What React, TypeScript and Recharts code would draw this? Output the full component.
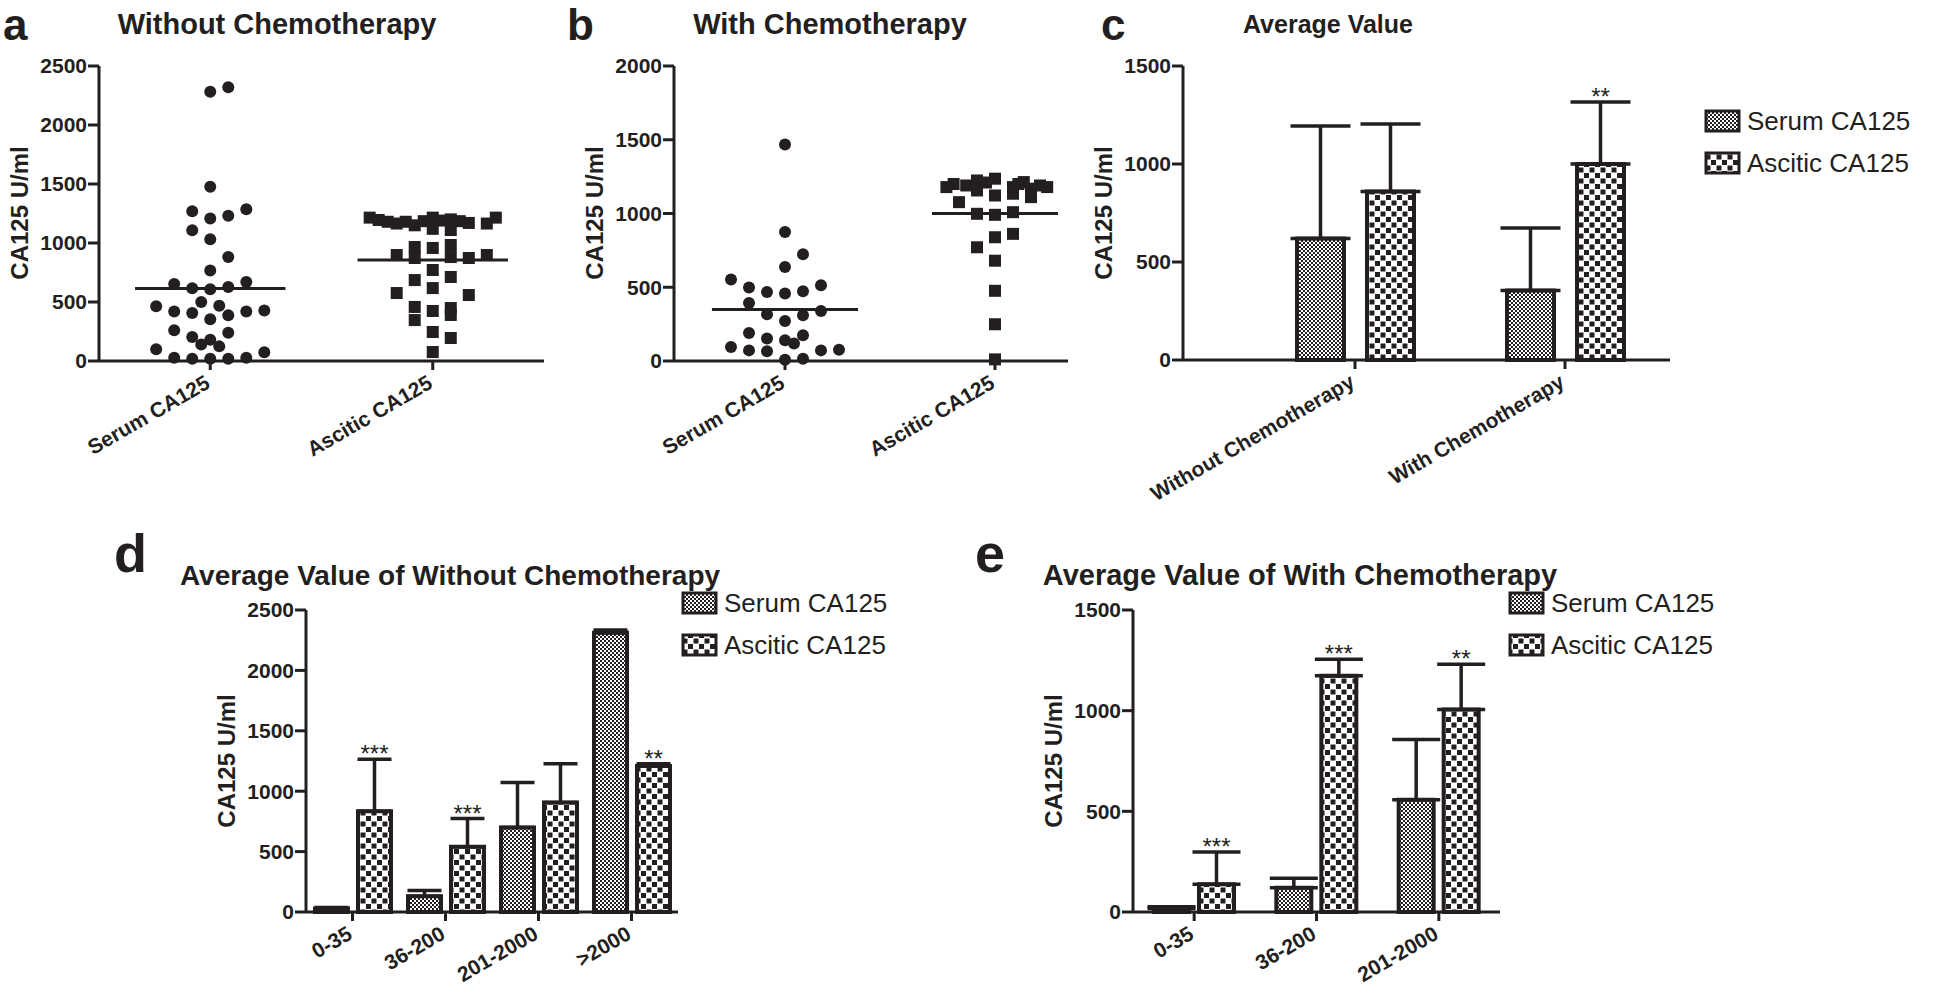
import React from 'react';
import {
  ScatterChart,
  Scatter,
  BarChart,
  Bar,
  XAxis,
  YAxis,
  ErrorBar,
  ReferenceLine,
  LabelList,
} from 'recharts';

const INK = '#231f20';
const FONT = '"Liberation Sans", Arial, Helvetica, sans-serif';

// panels a, b: dot plots. each point is [column offset, U/ml]
const scatterGroups = ['Serum CA125', 'Ascitic CA125'];

const serumWithout: [number, number][] = [
  [0, 2282], [1, 2319], [0, 1476], [-1, 1270], [0, 1208], [1, 1230], [2, 1287], [-1, 1109],
  [0, 1032], [1, 882], [0, 766], [-2, 653], [-1, 616], [0, 608], [1, 628], [2, 670],
  [-3, 464], [-2, 419], [-1, 407], [-0.5, 500], [0.5, 469], [1, 387], [2, 419], [3, 427],
  [0, 353], [-2, 260], [-1, 204], [0, 181], [1, 240], [-0.5, 139], [0.5, 124], [-3, 99],
  [3, 74], [-2, 28], [-1, 20], [0, 20], [1, 20], [2, 28],
];
const asciticWithout: [number, number][] = [
  [-3.5, 1215], [-3, 1195], [-2.5, 1180], [-2, 1165], [-1.5, 1180], [-1, 1150], [-0.5, 1185],
  [0, 1215], [0, 1120], [0.5, 1190], [1, 1200], [1, 1110], [1.5, 1185], [2, 1170], [3, 1165],
  [3.5, 1215], [-2, 898], [-2, 576], [-1, 966], [-1, 873], [-1, 686], [-1, 458], [-1, 347],
  [0, 958], [0, 771], [0, 618], [0, 424], [0, 246], [0, 76], [1, 983], [1, 881], [1, 712],
  [1, 449], [1, 390], [1, 195], [2, 873], [2, 559], [3, 898],
];
const serumWith: [number, number][] = [
  [0, 1468], [0, 875], [1, 724], [0, 638], [-3, 552], [-2, 498], [-1, 468], [0, 457], [1, 473],
  [2, 513], [-2, 394], [2, 339], [-1, 317], [1, 310], [0, 271], [-2, 190], [-1, 152], [0, 140],
  [1, 174], [0.5, 118], [-3, 95], [-2, 72], [-1, 66], [2, 72], [3, 77], [0, 9], [1, 16],
];
const asciticWith: [number, number][] = [
  [-2.7, 1179], [-2, 1077], [-1.6, 1190], [-1, 1224], [-1, 1156], [0, 1236], [0, 1122],
  [1, 1179], [1, 1134], [1.6, 1213], [2, 1168], [2, 1111], [2.9, 1179], [-2.3, 1200],
  [1.3, 1200], [2.5, 1190], [-0.5, 1210], [-1, 998], [0, 991], [1, 1009], [0, 839], [1, 862],
  [-1, 771], [0, 680], [0, 476], [0, 249], [0, 11],
];
const meanWithout = [615, 856];
const meanWith = [350, 1000];

const ticks2500 = [0, 500, 1000, 1500, 2000, 2500];
const ticks2000 = [0, 500, 1000, 1500, 2000];
const ticks1500 = [0, 500, 1000, 1500];

// panel c
const chemoGroups = ['Without Chemotherapy', 'With Chemotherapy'];
const avgSerum = [620, 355];
const sdSerum = [574, 318];
const avgAscitic = [860, 1000];
const sdAscitic = [344, 316];
const sigAverage = ['', '**'];

// panel d
const rangesWithout = ['0-35', '36-200', '201-2000', '>2000'];
const serumRangeWithout = [28, 130, 699, 2311];
const serumSdWithout = [9, 47, 372, 24];
const asciticRangeWithout = [835, 540, 907, 1208];
const asciticSdWithout = [429, 233, 320, 19];
const sigWithout = ['***', '***', '', '**'];

// panel e
const rangesWith = ['0-35', '36-200', '201-2000'];
const serumRangeWith = [17, 121, 557];
const serumSdWith = [9, 47, 300];
const asciticRangeWith = [138, 1174, 1006];
const asciticSdWith = [160, 82, 224];
const sigWith = ['***', '***', '**'];

type Box = { x0: number; x1: number; y0: number; y1: number };
const PAD_L = 100;
const PAD_T = 20;
const PAD_R = 30;
const PAD_B = 140;

const axisStyle = { stroke: INK, strokeWidth: 3 };
const yTick = { fill: INK, fontSize: 21, fontWeight: 700, fontFamily: FONT };

function AngledTick(props: any) {
  const { x, y, payload, labels } = props;
  const v = payload?.value;
  const text = typeof v === 'number' ? labels[v] : v;
  return (
    <g transform={`translate(${x + 1},${y + 15})`}>
      <text
        textAnchor="end"
        transform="rotate(-30)"
        fontSize={21}
        fontWeight={700}
        fill={INK}
        fontFamily={FONT}
      >
        {text}
      </text>
    </g>
  );
}

const dot = (p: any) => <circle cx={p.cx} cy={p.cy} r={6} fill={INK} />;
const square = (p: any) => (
  <rect x={p.cx - 6} y={p.cy - 6} width={12} height={12} fill={INK} />
);

function ScatterPanel(props: {
  box: Box;
  domain: [number, number];
  lane: number;
  yMax: number;
  yTicks: number[];
  serum: [number, number][];
  ascitic: [number, number][];
  means: number[];
  halfWidths: number[];
}) {
  const { box, domain, lane, yMax, yTicks, serum, ascitic, means, halfWidths } = props;
  const w = box.x1 - box.x0 + PAD_L + PAD_R;
  const h = box.y1 - box.y0 + PAD_T + PAD_B;
  const toPoints = (pts: [number, number][], cat: number) =>
    pts.map(([col, v]) => ({ x: cat + col * lane, y: v }));
  return (
    <div style={{ position: 'absolute', left: box.x0 - PAD_L, top: box.y0 - PAD_T }}>
      <ScatterChart width={w} height={h} margin={{ top: PAD_T, right: PAD_R, bottom: 0, left: 0 }}>
        <XAxis
          type="number"
          dataKey="x"
          domain={domain}
          ticks={[0, 1]}
          interval={0}
          height={PAD_B}
          tickSize={9}
          axisLine={axisStyle}
          tickLine={axisStyle}
          tick={<AngledTick labels={scatterGroups} />}
        />
        <YAxis
          type="number"
          dataKey="y"
          domain={[0, yMax]}
          ticks={yTicks}
          interval={0}
          width={PAD_L}
          tickSize={11}
          tickMargin={1}
          axisLine={axisStyle}
          tickLine={axisStyle}
          tick={yTick}
        />
        <Scatter data={toPoints(serum, 0)} shape={dot} isAnimationActive={false} />
        <Scatter data={toPoints(ascitic, 1)} shape={square} isAnimationActive={false} />
        {means.map((m, i) => (
          <ReferenceLine
            key={i}
            segment={[
              { x: i - halfWidths[i], y: m },
              { x: i + halfWidths[i], y: m },
            ]}
            stroke={INK}
            strokeWidth={3}
          />
        ))}
      </ScatterChart>
    </div>
  );
}

function starLabel(vals: number[], errs: number[]) {
  return (p: any) => {
    const vb = p.viewBox || {};
    const x = Number(p.x ?? vb.x);
    const y = Number(p.y ?? vb.y);
    const width = Number(p.width ?? vb.width);
    const height = Number(p.height ?? vb.height);
    const i = p.index;
    if (!p.value || !vals[i]) return null;
    const top = y - (errs[i] * height) / vals[i];
    return (
      <text
        x={x + width / 2}
        y={top + 3}
        textAnchor="middle"
        fontSize={24}
        fill={INK}
        fontFamily={FONT}
      >
        {p.value}
      </text>
    );
  };
}

function BarPanel(props: {
  box: Box;
  cats: string[];
  serum: number[];
  serumSd: number[];
  ascitic: number[];
  asciticSd: number[];
  sig: string[];
  yMax: number;
  yTicks: number[];
  barSize: number;
  barGap: number;
  cap: number;
  padding?: { left: number; right: number };
}) {
  const { box, cats, serum, serumSd, ascitic, asciticSd, sig, yMax, yTicks, barSize, barGap, cap } =
    props;
  const w = box.x1 - box.x0 + PAD_L + PAD_R;
  const h = box.y1 - box.y0 + PAD_T + PAD_B;
  const data = cats.map((name, i) => ({
    name,
    serum: serum[i],
    serumErr: [0, serumSd[i]],
    ascitic: ascitic[i],
    asciticErr: [0, asciticSd[i]],
    sig: sig[i],
  }));
  return (
    <div style={{ position: 'absolute', left: box.x0 - PAD_L, top: box.y0 - PAD_T }}>
      <BarChart
        width={w}
        height={h}
        data={data}
        margin={{ top: PAD_T, right: PAD_R, bottom: 0, left: 0 }}
        barSize={barSize}
        barGap={barGap}
      >
        <XAxis
          dataKey="name"
          interval={0}
          height={PAD_B}
          tickSize={9}
          padding={props.padding ?? { left: 0, right: 0 }}
          axisLine={axisStyle}
          tickLine={axisStyle}
          tick={<AngledTick labels={cats} />}
        />
        <YAxis
          domain={[0, yMax]}
          ticks={yTicks}
          interval={0}
          width={PAD_L}
          tickSize={11}
          tickMargin={1}
          axisLine={axisStyle}
          tickLine={axisStyle}
          tick={yTick}
        />
        <Bar
          dataKey="serum"
          fill="url(#serumFill)"
          stroke={INK}
          strokeWidth={4}
          isAnimationActive={false}
        >
          <ErrorBar dataKey="serumErr" direction="y" width={cap} stroke={INK} strokeWidth={3.5} />
        </Bar>
        <Bar
          dataKey="ascitic"
          fill="url(#asciticFill)"
          stroke={INK}
          strokeWidth={4}
          isAnimationActive={false}
        >
          <ErrorBar dataKey="asciticErr" direction="y" width={cap} stroke={INK} strokeWidth={3.5} />
          <LabelList dataKey="sig" content={starLabel(ascitic, asciticSd)} />
        </Bar>
      </BarChart>
    </div>
  );
}

function LegendBlock({ x, y }: { x: number; y: number }) {
  const rows = [
    { label: 'Serum CA125', fill: 'url(#serumFill)' },
    { label: 'Ascitic CA125', fill: 'url(#asciticFill)' },
  ];
  return (
    <g>
      {rows.map((r, i) => (
        <g key={r.label}>
          <rect
            x={x}
            y={y + i * 42 - 10}
            width={33}
            height={20}
            fill={r.fill}
            stroke={INK}
            strokeWidth={3}
          />
          <text x={x + 41} y={y + i * 42 + 9} fontSize={26} fill={INK} fontFamily={FONT}>
            {r.label}
          </text>
        </g>
      ))}
    </g>
  );
}

const panelLetters = [
  { t: 'a', x: 3, y: 40, s: 44 },
  { t: 'b', x: 567, y: 40, s: 44 },
  { t: 'c', x: 1101, y: 40, s: 44 },
  { t: 'd', x: 114, y: 572, s: 54 },
  { t: 'e', x: 975, y: 572, s: 54 },
];
const panelTitles = [
  { t: 'Without Chemotherapy', x: 277, y: 34, s: 29 },
  { t: 'With Chemotherapy', x: 830, y: 34, s: 29 },
  { t: 'Average Value', x: 1328, y: 33, s: 25 },
  { t: 'Average Value of Without Chemotherapy', x: 450, y: 585, s: 28 },
  { t: 'Average Value of With Chemotherapy', x: 1300, y: 585, s: 29 },
];
const yLabels = [
  { x: 28, y: 213 },
  { x: 603, y: 213 },
  { x: 1112, y: 213 },
  { x: 235, y: 761 },
  { x: 1062, y: 761 },
];

export default function App() {
  return (
    <div
      style={{
        position: 'absolute',
        left: 0,
        top: 0,
        width: 1946,
        height: 994,
        background: '#fff',
        overflow: 'hidden',
      }}
    >
      <style>{'.recharts-surface{overflow:visible}'}</style>
      <ScatterPanel
        box={{ x0: 99, x1: 544, y0: 66, y1: 361 }}
        domain={[-0.5, 1.5]}
        lane={0.081}
        yMax={2500}
        yTicks={ticks2500}
        serum={serumWithout}
        ascitic={asciticWithout}
        means={meanWithout}
        halfWidths={[0.338, 0.338]}
      />
      <ScatterPanel
        box={{ x0: 674, x1: 1068, y0: 66, y1: 361 }}
        domain={[-0.5286, 1.3476]}
        lane={0.0857}
        yMax={2000}
        yTicks={ticks2000}
        serum={serumWith}
        ascitic={asciticWith}
        means={meanWith}
        halfWidths={[0.348, 0.3]}
      />
      <BarPanel
        box={{ x0: 1183, x1: 1670, y0: 66, y1: 360 }}
        cats={chemoGroups}
        serum={avgSerum}
        serumSd={sdSerum}
        ascitic={avgAscitic}
        asciticSd={sdAscitic}
        sig={sigAverage}
        yMax={1500}
        yTicks={ticks1500}
        barSize={47}
        barGap={23}
        cap={30}
        padding={{ left: 67, right: 0 }}
      />
      <BarPanel
        box={{ x0: 306, x1: 678, y0: 610, y1: 912 }}
        cats={rangesWithout}
        serum={serumRangeWithout}
        serumSd={serumSdWithout}
        ascitic={asciticRangeWithout}
        asciticSd={asciticSdWithout}
        sig={sigWithout}
        yMax={2500}
        yTicks={ticks2500}
        barSize={33}
        barGap={10}
        cap={17}
      />
      <BarPanel
        box={{ x0: 1133, x1: 1500, y0: 610, y1: 912 }}
        cats={rangesWith}
        serum={serumRangeWith}
        serumSd={serumSdWith}
        ascitic={asciticRangeWith}
        asciticSd={asciticSdWith}
        sig={sigWith}
        yMax={1500}
        yTicks={ticks1500}
        barSize={35}
        barGap={10}
        cap={24}
      />
      <svg
        width={1946}
        height={994}
        style={{ position: 'absolute', left: 0, top: 0, pointerEvents: 'none' }}
      >
        <defs>
          <pattern id="serumFill" patternUnits="userSpaceOnUse" width={4} height={4}>
            <rect width={4} height={4} fill="#fff" />
            <rect width={2} height={2} fill={INK} />
            <rect x={2} y={2} width={2} height={2} fill={INK} />
          </pattern>
          <pattern id="asciticFill" patternUnits="userSpaceOnUse" width={11} height={11}>
            <rect width={11} height={11} fill="#fff" />
            <rect x={0.5} y={0.5} width={5} height={5} fill={INK} />
            <rect x={6} y={6} width={5} height={5} fill={INK} />
          </pattern>
        </defs>
        {panelLetters.map((l) => (
          <text key={l.t} x={l.x} y={l.y} fontSize={l.s} fontWeight={700} fill={INK} fontFamily={FONT}>
            {l.t}
          </text>
        ))}
        {panelTitles.map((t) => (
          <text
            key={t.t}
            x={t.x}
            y={t.y}
            fontSize={t.s}
            fontWeight={700}
            fill={INK}
            fontFamily={FONT}
            textAnchor="middle"
          >
            {t.t}
          </text>
        ))}
        {yLabels.map((l, i) => (
          <text
            key={i}
            x={l.x}
            y={l.y}
            transform={`rotate(-90 ${l.x} ${l.y})`}
            fontSize={24}
            fontWeight={700}
            fill={INK}
            fontFamily={FONT}
            textAnchor="middle"
          >
            CA125 U/ml
          </text>
        ))}
        <LegendBlock x={1706} y={121} />
        <LegendBlock x={683} y={603} />
        <LegendBlock x={1510} y={603} />
      </svg>
    </div>
  );
}
